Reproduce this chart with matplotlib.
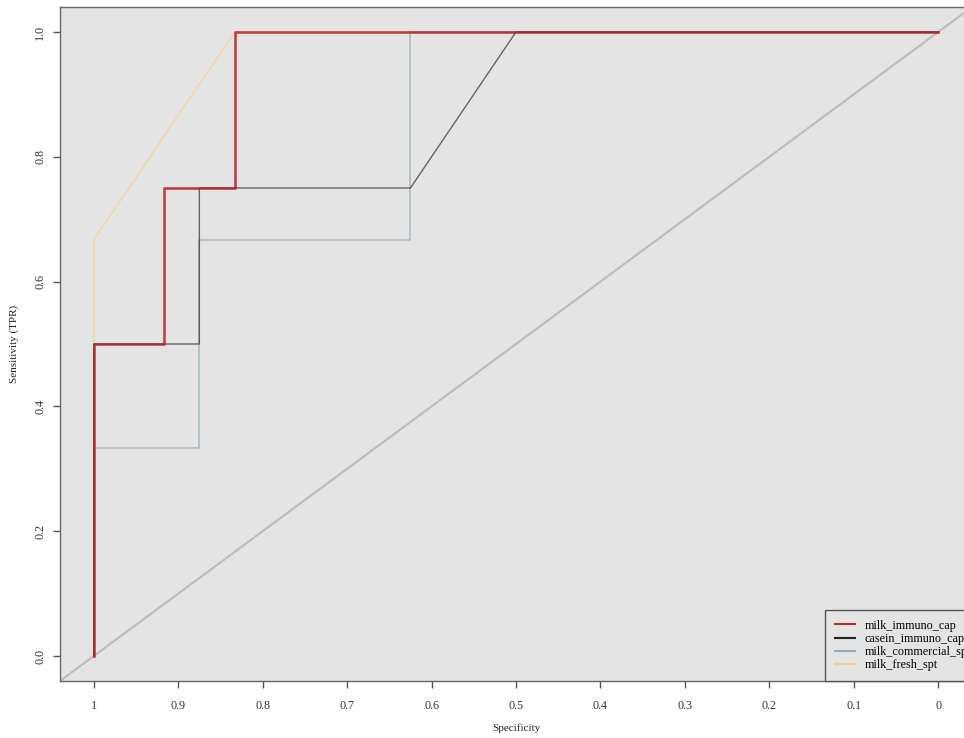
import numpy as np
import matplotlib

matplotlib.use("Agg")
import matplotlib.pyplot as plt

# ROC curves: (specificity, sensitivity) vertices
series_names = ["milk_immuno_cap", "casein_immuno_cap", "milk_commercial_spt", "milk_fresh_spt"]
spec_milk_immuno = [1.0, 1.0, 0.917, 0.917, 0.833, 0.833, 0.0]
sens_milk_immuno = [0.0, 0.5, 0.5, 0.75, 0.75, 1.0, 1.0]
spec_casein_immuno = [1.0, 1.0, 0.875, 0.875, 0.625, 0.5, 0.0]
sens_casein_immuno = [0.0, 0.5, 0.5, 0.75, 0.75, 1.0, 1.0]
spec_milk_commercial = [1.0, 1.0, 0.875, 0.875, 0.625, 0.625, 0.0]
sens_milk_commercial = [0.0, 0.333, 0.333, 0.667, 0.667, 1.0, 1.0]
spec_milk_fresh = [1.0, 1.0, 0.833, 0.0]
sens_milk_fresh = [0.0, 0.667, 1.0, 1.0]

xticks = [1, 0.9, 0.8, 0.7, 0.6, 0.5, 0.4, 0.3, 0.2, 0.1, 0]
xtick_labels = ["1", "0.9", "0.8", "0.7", "0.6", "0.5", "0.4", "0.3", "0.2", "0.1", "0"]
yticks = [0.0, 0.2, 0.4, 0.6, 0.8, 1.0]
ytick_labels = ["0.0", "0.2", "0.4", "0.6", "0.8", "1.0"]

plt.rcParams["font.family"] = ["Liberation Serif", "DejaVu Serif"]

W, H = 964, 738
fig = plt.figure(figsize=(W / 100, H / 100), dpi=100)
fig.patch.set_facecolor("white")
# axes box in pixels: left 60, right ~972 (runs past the image edge), top 7, bottom 681
ax = fig.add_axes([60 / W, (H - 681) / H, (972 - 60) / W, (681 - 7) / H])
ax.set_facecolor("#e4e4e4")

ax.set_xlim(1.04, -0.04)
ax.set_ylim(-0.04, 1.04)

# chance diagonal across the whole panel
ax.axline((1, 0), (0, 1), color="#bdbdbd", lw=1.6, zorder=1)

ax.plot(spec_milk_fresh, sens_milk_fresh, color="#f2d49c", lw=1.2, alpha=0.8, zorder=2)
ax.plot(spec_milk_commercial, sens_milk_commercial, color="#9fb3c2", lw=1.2, alpha=0.85, zorder=3)
ax.plot(spec_casein_immuno, sens_casein_immuno, color="#3a3a3a", lw=1.0, alpha=0.75, zorder=4)
ax.plot(spec_milk_immuno, sens_milk_immuno, color="#b01a1f", lw=1.9, alpha=0.8, zorder=5)

handles = [
    plt.Line2D([], [], color="#c0282d", lw=1.5),
    plt.Line2D([], [], color="#222222", lw=1.5),
    plt.Line2D([], [], color="#93abbe", lw=1.5),
    plt.Line2D([], [], color="#f3cf86", lw=1.5),
]
# legend anchored at its lower-left corner; it runs off the right edge like the original
leg = ax.legend(handles, series_names, loc="lower left",
                bbox_to_anchor=((825 - 60) / 912, 0), borderaxespad=0,
                fontsize=8.7, frameon=True, fancybox=False, handlelength=1.65,
                handletextpad=0.85, labelspacing=0.1, borderpad=0.8)
leg.get_frame().set_facecolor("#e4e4e4")
leg.get_frame().set_edgecolor("#555555")
leg.get_frame().set_linewidth(1.0)
leg.get_frame().set_alpha(1)

ax.set_xticks(xticks)
ax.set_xticklabels(xtick_labels)
ax.set_yticks(yticks)
ax.set_yticklabels(ytick_labels, rotation=90, va="center")
ax.tick_params(axis="both", direction="out", length=5, width=1, color="#555555",
               labelsize=8.7, labelcolor="#333333")
ax.tick_params(axis="x", pad=9)
ax.tick_params(axis="y", pad=5)

for s in ax.spines.values():
    s.set_color("#666666")
    s.set_linewidth(1.0)

ax.set_xlabel("Specificity", fontsize=8, color="#222222", va="center")
ax.xaxis.set_label_coords(0.5, (681 - 728) / 674)
ax.set_ylabel("Sensitivity (TPR)", fontsize=8, color="#222222", va="center")
ax.yaxis.set_label_coords((14 - 60) / 912, 0.5)

fig.savefig("out.png", dpi=100)
